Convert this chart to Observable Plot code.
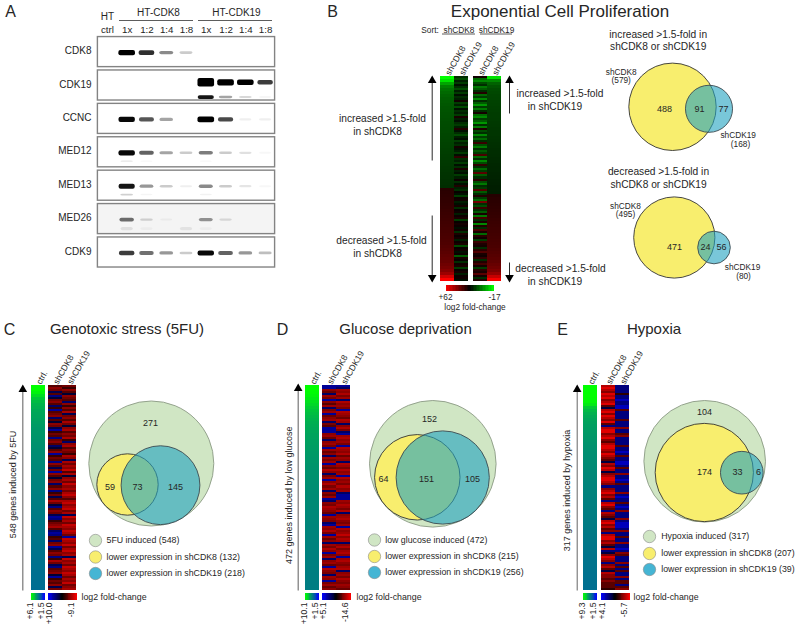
<!DOCTYPE html>
<html><head><meta charset="utf-8">
<style>
html,body{margin:0;padding:0;background:#fff}
#page{position:relative;width:800px;height:628px;overflow:hidden;background:#fff}
#page svg{position:absolute;display:block;max-width:none}
</style>
<script src="https://cdn.jsdelivr.net/npm/d3@7"></script>
<script src="https://cdn.jsdelivr.net/npm/@observablehq/plot@0.6"></script>
</head><body><div id="page"></div>
<script>
// ---------- panel A: western blot band intensities (0-1+), lanes left to right
const lanes=["ctrl","1x","1:2","1:4","1:8","1x","1:2","1:4","1:8"];
const proteins=["CDK8","CDK19","CCNC","MED12","MED13","MED26","CDK9"];
const bandCDK8=[0,1,.8,.45,.2,0,0,0,0];
const bandCDK19=[0,0,0,0,0,1.9,1.25,1.05,.75];
const bandCCNC=[0,.95,.65,.35,0,1.1,.7,.06,.06];
const bandMED12=[0,.95,.6,.35,.2,.5,.2,.12,.03];
const bandMED13=[0,.9,.4,.2,.06,.45,.2,.1,.03];
const bandMED26=[0,.55,.15,.04,0,.4,.12,0,0];
const bandCDK9=[0,.75,.55,.4,.2,.95,.6,.4,.25];
const lowerCDK19=[0,0,0,0,0,.9,.35,.15,.05];
const lowerMED12=[0,.1,.03,0,0,.03,0,0,0];
const lowerMED13=[0,.18,.04,0,0,.05,0,0,0];
const lowerMED26=[0,.08,.03,0,.07,.03,0,0,0];

// ---------- panel B: log2 fold-change, top to bottom
const bSort8=[-17,-15,-11,-8.5,-7.5,-7,-6.5,-6.2,-6,-5.8,-5.6,-5.5,-5.4,-5.3,-5.2,-5.1,-5,-4.9,-4.8,-4.7,-4.6,-4.5,-4.4,-4.3,-4.2,-4.1,-4,-3.9,-3.8,-3.7,-3.6,-3.5,-3.4,-3.3,-3.2,-3.1,-3,10,10.5,11,11.5,12,12.5,13,13.5,14,14.5,15,15.5,16,16.5,17,17.5,18,18.5,19,20,21,22,23,24,25,27,29,32,38,50,62];
const bSort8Other=[-3,-5,-2,-4,-1,-3,-5,-2,-4,-1,-3,-2,4,-4,-2,-5,-1,-3,-2,-4,6,-2,-1,-3,-4,-2,8,-1,-3,-5,-2,-1,-4,-2,-3,5,-1,-2,-4,-1,12,-3,-2,-4,-1,-3,6,-2,-1,-4,-2,3,-3,-1,8,-2,-3,2,-1,-4,3,4,-2,-1,5,-3,2,4,-2,3,6,-4,2,5,3,-1,4,-3,7,2,5,-2,3,6,-5,2,4,-1,3,-6,5,2,-3,4,6,-4,2,5,-2,3,4,-1];
const bSort19Other=[4,-7,-9,-5,-3,-8,-6,-3,9,-7,-4,-9,-3,-6,-10,-4,-8,-3,5,-7,-9,-4,-6,-10,-3,-8,7,-5,-3,-9,-4,-7,-3,14,-5,-8,-3,-6,-4,18,-7,-3,-9,-5,12,-3,-7,-4,22,-6,-3,10,-5,-8,-3,-4,20,-6,-3,8,-4,-7,28,-3,-5,14,-3,-6,5,-8,16,-3,6,-9,8,-3,18,6,-7,10,4,-4,14,7,5,-3,10,20,6,4,12,-3,8,16,5,-4,10,6,22,5,-3,8];
const bSort19=[-15,-9,-6.5,-5.5,-5,-4.8,-4.6,-4.5,-4.4,-4.3,-4.2,-4.1,-4,-4,-3.9,-3.8,-3.7,-3.6,-3.5,-3.5,-3.4,-3.3,-3.2,-3.1,-3,-3,-2.9,-2.8,-2.7,-2.6,-2.5,-2.5,-2.4,-2.3,-2.2,-2.1,-2,-2,-1.9,9,10,10.5,11,11.5,12,12.5,13,13.5,14,14.5,15,15.5,16,16.5,17,17.5,18,19,20,21,22,23,25,27,30,36,48,60];
const vennUp=[579,168], vennUpCounts=[488,91,77];
const vennDown=[495,80], vennDownCounts=[471,24,56];

// ---------- panel C: genotoxic stress
const cCtrl=[6.1,6.1,5.9,5.5,5.1,4.9,4.75,4.65,4.55,4.5,4.45,4.4,4.35,4.3,4.25,4.22,4.2,4.17,4.15,4.12,4.1,4.07,4.05,4.02,4,3.98,3.96,3.94,3.92,3.9,3.88,3.86,3.85,3.84,3.82,3.8,3.79,3.78,3.76,3.75,3.74,3.72,3.71,3.7,3.69,3.68,3.67,3.66,3.65,3.64,3.63,3.62,3.61,3.6,3.59,3.58,3.57,3.56,3.55,3.54,3.53,3.52,3.51,3.5,3.5,3.49,3.48,3.47];
const cCDK8=[-3,-5,-4,3,-3,5,2,-4,-5,-3,4,-2,6,-3,-4,-5,4,-3,2,-5,-4,3,6,-2,-4,-3,5,-4,-5,-3,4,2,-3,-5,6,-2,-4,-3,5,-5,-3,3,-4,6,-5,-3,2,-4,-5,4,-3,-5,5,-2,-4,3,-3,-6,-4,2,5,-3,-5,-4,3,6,5,-2,-4,-5,-6,-3,4,6,5,-2,-3,4,-4,-5,6,3,-3,-5,-4,5,-2,-6,-4,3,5,-3,-4,-5,2,6,-2,-4,-3,-5,3,-4];
const cCDK19=[-4,-2,-5,-3,2,-5,-4,-3,4,-5,-2,-5,-3,-6,3,-4,-5,-3,-6,-4,2,-5,-6,-3,-5,-4,-6,-2,4,-5,-6,-3,-5,-4,-2,-6,-5,3,-6,-4,-6,-5,-7,-3,-6,2,-5,-6,-4,-7,-5,-6,-4,-6,-7,-5,-3,-6,-7,-5,-6,-7,-4,-6,3,-7,-5,-6,-4,-7,-6,-5,-7,-6,-4,6,-7,-6,-5,-7,-4,-6,-7,-5,-6,3,-7,-5,-6,-4,-7,-6,-5,-7,-6,-4,-6,-5,-7,-4,-5,-6];
const vennC=[548,132,218], vennCCounts=[271,59,73,145];

// ---------- panel D: glucose deprivation
const dCtrl=[10.1,10.1,10,9.8,9.5,9.1,8.8,8.4,8.1,7.9,7.7,7.55,7.4,7.3,7.2,7.1,7,6.95,6.9,6.85,6.8,6.75,6.7,6.65,6.6,6.55,6.5,6.47,6.44,6.41,6.38,6.35,6.32,6.29,6.26,6.23,6.2,6.18,6.16,6.14,6.12,6.1,6.08,6.06,6.04,6.02,6,5.98,5.96,5.95,5.93,5.92,5.9,5.89,5.87,5.86,5.85,5.83,5.82,5.8,5.79,5.78,5.76,5.75,5.74,5.72,5.71,5.7];
const dCDK8=[3,3,-8,-6,2,-9,-7,3,-8,-5,-9,2,-7,-9,3,-6,-8,-9,2,-7,-5,3,3,3,-8,-9,-6,2,-8,-9,-7,3,-9,-6,-8,2,-9,-7,-9,3,-8,-6,-10,-8,2,-7,-9,3,-8,-10,-7,-9,2,-8,-6,-9,3,2,-8,-7,-10,-9,-8,-6,3,-9,-8,-7,2,3,-9,-8,-10,-7,3,-9,-6,-8,2,-9,-7,-10,-8,3,-7,-9,2,-8,-9,-6,3,-10,-8,-7,2,-9,-8,3,-7,-9,-6,-8];
const dCDK19=[3,2,-9,-8,-10,-7,-9,2,-10,-8,-9,-7,3,-10,-9,-8,-6,-10,-9,2,-8,-10,-7,2,3,-9,-10,-8,-9,-7,3,-10,-9,-8,-10,-6,-9,-8,2,-10,-9,-7,-10,-8,-9,3,-10,-8,-9,-7,-10,-8,-9,2,3,3,3,-9,-8,-10,-9,-7,-10,2,-8,-9,-10,-8,-7,-9,3,-10,-8,-9,-11,-8,-10,-9,2,-8,-10,-7,-9,-10,-8,3,-9,-10,-8,-7,-9,-10,2,-8,-9,-7,-10,-8,-7,-9,-8,-6];
const vennD=[472,215,256], vennDCounts=[152,64,151,105];

// ---------- panel E: hypoxia
const eCtrl=[9.3,9.3,9.3,9.3,9.2,9.1,8.7,7.7,7.2,6.9,6.7,6.55,6.45,6.35,6.3,6.2,6.15,6.1,6.05,6,5.95,5.9,5.87,5.84,5.8,5.77,5.74,5.71,5.68,5.65,5.62,5.6,5.57,5.55,5.52,5.5,5.47,5.45,5.42,5.4,5.38,5.36,5.34,5.32,5.3,5.28,5.26,5.24,5.22,5.2,5.18,5.16,5.14,5.12,5.1,5.08,5.06,5.05,5.03,5.01,5,4.98,4.96,4.95,4.93,4.92,4.91,4.9];
const eCDK8=[-4,-5,-4,-3,-5,-4,-5,-3,-4,-5,-2,1,-4,-5,-3,-5,-4,-3,-5,-2,2,-4,-5,-5,-3,-4,-5,-3,-2,-4,-5,-5,-4,-3,-5,-4,-3,-2,1,-4,-3,-5,-4,1,-3,-4,-5,-5,-4,-3,2,-3,-4,-5,-3,-4,-2,2,-4,-5,-3,-2,2,-4,-3,-2,1,-4,-5,-3,-4,-2,-3,2,-4,-5,-5,-3,-4,-2,1,-4,2,1,-3,-5,-4,-3,2,-3,-4,-2,1,-4,-3,-3,-2,-3,-2,-2,-2,-1];
const eCDK19=[2,2,2,2,-1,2,2,3,2,2,3,3,-2,2,2,2,2,-2,2,2,2,-3,2,2,-2,-3,2,2,2,2,-2,2,2,3,2,-2,2,2,3,3,2,-2,2,2,-3,2,2,3,2,-2,2,2,2,-3,2,3,2,2,-2,2,3,2,-3,2,2,2,-3,2,3,3,3,2,-3,2,2,-2,2,2,-3,2,2,3,2,-3,-2,2,2,2,-3,2,-2,2,-2,2,2,-3,2,-2,-2,2,-2,-3];
const vennE=[317,207,39], vennECounts=[104,174,33,6];

const columnsCtrl=["ctrl."], columnsKd=["shCDK8","shCDK19"];

// ---------- styles and helpers (layout only)
const FONT="'Liberation Sans', Arial, sans-serif", INK="#262626";
const GREEN="#d0e6c4", YELLOW="#f8ee6e", BLUE="rgb(32,162,192)", BLUE_SOLID="#45b5d4";
const page=document.getElementById("page");
function place(svg,left,top){svg.style.left=left+"px";svg.style.top=top+"px";page.append(svg);return svg;}
const base=(w,h,o={})=>({width:w,height:h,marginTop:0,marginRight:0,marginBottom:0,marginLeft:0,
  style:{background:"transparent",fontFamily:FONT,overflow:"visible",color:INK},...o});
const diverging=(lo,mid,hi,cLo,cMid,cHi)=>({type:"linear",domain:[lo,mid,hi],range:[cLo,cMid,cHi],interpolate:"rgb",clamp:true});
const ramp2=(lo,hi)=>({type:"linear",domain:[lo,hi],range:["#0000ff","#00ff00"],interpolate:"rgb",clamp:true});

function heat(columns,labels,colorOpts,left,top,w,h,head=46,tickFont=8.6){
  const rows=columns.flatMap((vals,c)=>vals.map((v,i)=>({col:labels[c],start:i/vals.length,end:(i+1)/vals.length,value:v})));
  const svg=Plot.plot(base(w,h+head,{marginTop:head,
    x:{type:"band",domain:labels,padding:0},
    y:{domain:[1,0],axis:null},
    color:colorOpts,
    marks:[
      Plot.barY(rows,{x:"col",y1:"start",y2:"end",fill:"value",shapeRendering:"crispEdges"}),
      Plot.axisX({anchor:"top",tickSize:0,tickPadding:2,tickRotate:-60,fontSize:tickFont,label:null,fill:INK})
    ]}));
  const bars=svg.querySelector('g[aria-label="bar"]');
  if(bars)bars.style.filter="blur(.45px)";
  place(svg,left,top-head);
}
function colorbar(stops,labels,colorOpts,left,top,w,h,inset){
  const n=Math.max(1,stops.length-1),steps=[];
  for(let s=0;s<n;s++){for(let k=0;k<16;k++){
    const a=stops[s]+(stops[s+1]-stops[s])*k/16,b=stops[s]+(stops[s+1]-stops[s])*(k+1)/16;
    steps.push({a,b,v:(a+b)/2});}}
  const range=stops.map((_,i)=>w*i/n);
  const edge=[stops[0],stops[stops.length-1]];
  const tick=(i,dx)=>labels?Plot.text([edge[i]],{x:d=>d,text:()=>labels[i],rotate:-90,frameAnchor:"bottom",textAnchor:"end",dy:2,dx,fontSize:8.6,fill:INK}):null;
  place(Plot.plot(base(w,h+26,{marginBottom:26,
    x:{type:"linear",domain:stops,range,axis:null},
    color:colorOpts,
    marks:[Plot.barX(steps,{x1:"a",x2:"b",fill:"v",shapeRendering:"crispEdges"}),tick(0,inset),tick(1,-inset)]})),left,top);
}
function venn(counts,layout,maxR,maxN,box){
  const [l,t,w,h]=box;
  const sets=counts.map((n,i)=>({n,x:layout[i][0],y:layout[i][1],k:layout[i][2]}));
  const style={green:{fill:GREEN,stroke:"#8b9a84"},yellow:{fill:YELLOW,stroke:"#333"},blue:{fill:BLUE,fillOpacity:.6,stroke:"#3b4a50"}};
  place(Plot.plot(base(w,h,{
    x:{domain:[l,l+w],range:[0,w],axis:null},y:{domain:[t,t+h],range:[0,h],axis:null},
    r:{type:"sqrt",domain:[0,maxN],range:[0,maxR]},
    marks:sets.map(s=>Plot.dot([s],{x:"x",y:"y",r:"n",strokeWidth:.9,...style[s.k]}))
  })),l,t);
}

// ---------- panel A plot
const bandRows=[];
const addBands=(vals,row,offset,scale)=>vals.forEach((v,lane)=>{if(v>0)bandRows.push({lane,row,offset,v,scale});});
[bandCDK8,bandCDK19,bandCCNC,bandMED12,bandMED13,bandMED26,bandCDK9].forEach((b,i)=>addBands(b,i,i==1?.42:.53,1));
addBands(lowerCDK19,1,.86,.75);addBands(lowerMED12,3,.78,.6);addBands(lowerMED13,4,.78,.7);addBands(lowerMED26,5,.8,1.5);
const frames=proteins.map((p,i)=>({p,i}));
const halfH=d=>(.028+.052*d.v)*d.scale, halfW=d=>.3+.12*Math.min(d.v,1);
const blotLeft=67, blot=Plot.plot(base(blotLeft+178,34.9+233.8,{marginLeft:blotLeft,marginTop:34.9,
  x:{domain:[-.5,8.5],axis:null},y:{domain:[7,0],axis:null},
  marks:[
    Plot.rect(frames,{x1:-.48,x2:8.48,y1:d=>d.i+.05,y2:d=>d.i+.95,fill:d=>d.p==="MED26"?"#f4f4f4":"#fff",stroke:"#838383",strokeWidth:1.4}),
    Plot.rect(bandRows,{x1:d=>d.lane-halfW(d),x2:d=>d.lane+halfW(d),
      y1:d=>d.row+d.offset-halfH(d),y2:d=>d.row+d.offset+halfH(d),
      fill:"#000",fillOpacity:d=>Math.min(1,d.v*1.02),rx:2}),
    Plot.text(frames,{x:-.5,y:d=>d.i+.5,text:"p",textAnchor:"end",dx:-6,dy:-1,fontSize:10,fill:INK}),
    Plot.text(lanes,{x:(d,i)=>i,y:0,text:d=>d,dy:-6,fontSize:9.8,fill:INK})
  ]}));
const bandGroup=blot.querySelectorAll('g[aria-label="rect"]')[1];
if(bandGroup)bandGroup.style.filter="blur(.7px)";
place(blot,97-blotLeft,0);

// ---------- panel B heat maps
const bColor=diverging(-17,0,62,"#00ff00","#000000","#ff0000");
const ctrlColorC=ramp2(1.5,6.1),ctrlColorD=ramp2(1.5,10.1),ctrlColorE=ramp2(1.5,9.3);
const kdC=diverging(-9.1,0,10,"#ff0000","#000000","#0000ff");
const kdD=diverging(-14.6,0,5.1,"#ff0000","#000000","#0000ff");
const kdE=diverging(-5.7,0,4.1,"#ff0000","#000000","#0000ff");
heat([bSort8,bSort8Other],columnsKd,bColor,440,76,28,205);
heat([bSort19Other,bSort19],columnsKd,bColor,472.5,76,28.5,205);
colorbar([62,0,-17],null,bColor,446,285,47.5,6,0);

// ---------- panels C D E heat maps
const hTop=385,hH=205,barTop=593,barH=7;
[[cCtrl,cCDK8,cCDK19,ctrlColorC,kdC,31,48,[6.1,1.5],["+6.1","+1.5"],[10,0,-9.1],["+10.0","-9.1"]],
 [dCtrl,dCDK8,dCDK19,ctrlColorD,kdD,304.7,321.7,[10.1,1.5],["+10.1","+1.5"],[5.1,0,-14.6],["+5.1","-14.6"]],
 [eCtrl,eCDK8,eCDK19,ctrlColorE,kdE,583.3,600.6,[9.3,1.5],["+9.3","+1.5"],[4.1,0,-5.7],["+4.1","-5.7"]]
].forEach(([ct,a,b,cc,kc,xc,xd,s1,l1,s2,l2])=>{
  heat([ct],columnsCtrl,cc,xc,hTop,14,hH);
  heat([a,b],columnsKd,kc,xd,hTop,28.5,hH);
  colorbar(s1,l1,cc,xc,barTop,14,barH,1.5);
  colorbar(s2,l2,kc,xd,barTop,28.5,barH,3.5);
});

// ---------- venn diagrams (area follows set size)
venn(vennUp,[[672,106.3,"yellow"],[708.5,108.3,"blue"]],43.7,579,[620,55,120,105]);
venn(vennDown,[[673.8,237,"yellow"],[713.5,247,"blue"]],40.6,495,[625,190,115,95]);
venn(vennC,[[150.8,463,"green"],[127,484,"yellow"],[160,484.7,"blue"]],62.5,548,[85,398,135,135]);
venn(vennD,[[432.3,463.3,"green"],[416.8,476.8,"yellow"],[442.2,477,"blue"]],63.3,472,[366,398,135,135]);
venn(vennE,[[704.2,460.8,"green"],[703.8,472,"yellow"],[741.3,472.2,"blue"]],60.8,317,[640,398,130,130]);

// ---------- annotation layer: every free label, arrow and legend swatch
const T=(t,x,y)=>({t,x,y});
const letters=[T("A",10,11),T("B",332,11),T("C",9,329),T("D",282,329),T("E",562,329)];
const titleB=[T("Exponential Cell Proliferation",559.5,11)];
const titles=[T("Genotoxic stress (5FU)",126.5,329),T("Glucose deprivation",405,329),T("Hypoxia",653.5,329)];
const blotHead=[T("HT",107,16),T("HT-CDK8",158,12),T("HT-CDK19",236,12)];
const midLabels=[
 T("increased >1.5-fold",382,118.5),T("in shCDK8",377,131),T("decreased >1.5-fold",381,240),T("in shCDK8",377,253),
 T("increased >1.5-fold",559.5,93),T("in shCDK19",554.5,106),T("decreased >1.5-fold",560,268),T("in shCDK19",554.5,281),
 T("increased >1.5-fold in",657.7,34),T("shCDK8 or shCDK19",657.7,46.5),T("decreased >1.5-fold in",658,171),T("shCDK8 or shCDK19",658,184)];
const smallLabels=[
 T("Sort:",429.5,30),T("shCDK8",458.5,30),T("shCDK19",496,30),
 T("+62",445,297),T("-17",494,297),T("log2 fold-change",474.5,307),
 T("shCDK8",620.7,71.5),T("(579)",620.7,80),T("shCDK19",737.7,135),T("(168)",740,143.5),
 T("shCDK8",625,205.5),T("(495)",625,214),T("shCDK19",742,267),T("(80)",743,275.5)];
const countLabels=[
 ...vennUpCounts.map((n,i)=>T(n,[664,699,723][i],109)),
 ...vennDownCounts.map((n,i)=>T(n,[674,705,721][i],247)),
 ...vennCCounts.map((n,i)=>T(n,[150,109.5,137,175][i],[423,486.5,486.5,486.5][i])),
 ...vennDCounts.map((n,i)=>T(n,[429,383,426,472][i],[418.5,479,479,479][i])),
 ...vennECounts.map((n,i)=>T(n,[704,704,737,758][i],[412,472,472,472][i]))];
const legendLabels=[
 T("5FU induced (548)",106,540),T("lower expression in shCDK8 (132)",106,556.5),T("lower expression in shCDK19 (218)",106,573),T("log2 fold-change",81,597),
 T("low glucose induced (472)",384.7,539.5),T("lower expression in shCDK8 (215)",384.7,556),T("lower expression in shCDK19 (256)",384.7,572),T("log2 fold-change",356,597),
 T("Hypoxia induced (317)",660.7,536),T("lower expression in shCDK8 (207)",660.7,553),T("lower expression in shCDK19 (39)",660.7,569),T("log2 fold-change",633,597)];
const sideLabels=[T("548 genes induced by 5FU",13,484),T("472 genes induced by low glucose",289,494.7),T("317 genes induced by hypoxia",567,490)];
const swatches=[[95,540,GREEN],[95,556.5,YELLOW],[95,573,BLUE_SOLID],[374,539.5,GREEN],[374,556,YELLOW],[374,572,BLUE_SOLID],[649,536,GREEN],[649,553,YELLOW],[649,569,BLUE_SOLID]];
const plainRules=[[119,193,20],[198,272,20],[442,475,33.5],[480,512,33.5]];
const arrows=[[431.7,160,80,"#111"],[431.7,215,277,"#111"],[509,113,80,"#111"],[509,262,277,"#111"],[22.3,590,389,"#777"],[297.7,590,388,"#777"],[576.7,590,389,"#555"]];
const txt=(rows,o)=>Plot.text(rows,{x:"x",y:"y",text:"t",fill:INK,...o});
place(Plot.plot(base(800,628,{
  x:{domain:[0,800],range:[0,800],axis:null},y:{domain:[0,628],range:[0,628],axis:null},
  marks:[
    Plot.ruleY(plainRules,{x1:d=>d[0],x2:d=>d[1],y:d=>d[2],stroke:"#333",strokeWidth:.8}),
    Plot.link(arrows,{x1:d=>d[0],x2:d=>d[0],y1:d=>d[1],y2:d=>d[2],stroke:d=>d[3],strokeWidth:d=>d[3]==="#777"?1.2:.9}),
    Plot.dot(arrows,{x:d=>d[0],y:d=>d[2],symbol:"triangle",r:3.2,fill:"#000",rotate:d=>d[2]>d[1]?180:0}),
    Plot.dot(swatches,{x:d=>d[0],y:d=>d[1],r:6.2,fill:d=>d[2],stroke:"#8a8a8a",strokeWidth:.6}),
    txt(letters,{fontSize:16}),
    txt(titleB,{fontSize:17}),
    txt(titles,{fontSize:15}),
    txt(blotHead,{fontSize:10}),
    txt(midLabels,{fontSize:10.2}),
    txt(smallLabels,{fontSize:8.3}),
    txt(countLabels,{fontSize:9}),
    txt(legendLabels,{fontSize:8.8,textAnchor:"start"}),
    txt(sideLabels,{fontSize:9,rotate:-90})
  ]})),0,0);
</script></body></html>
